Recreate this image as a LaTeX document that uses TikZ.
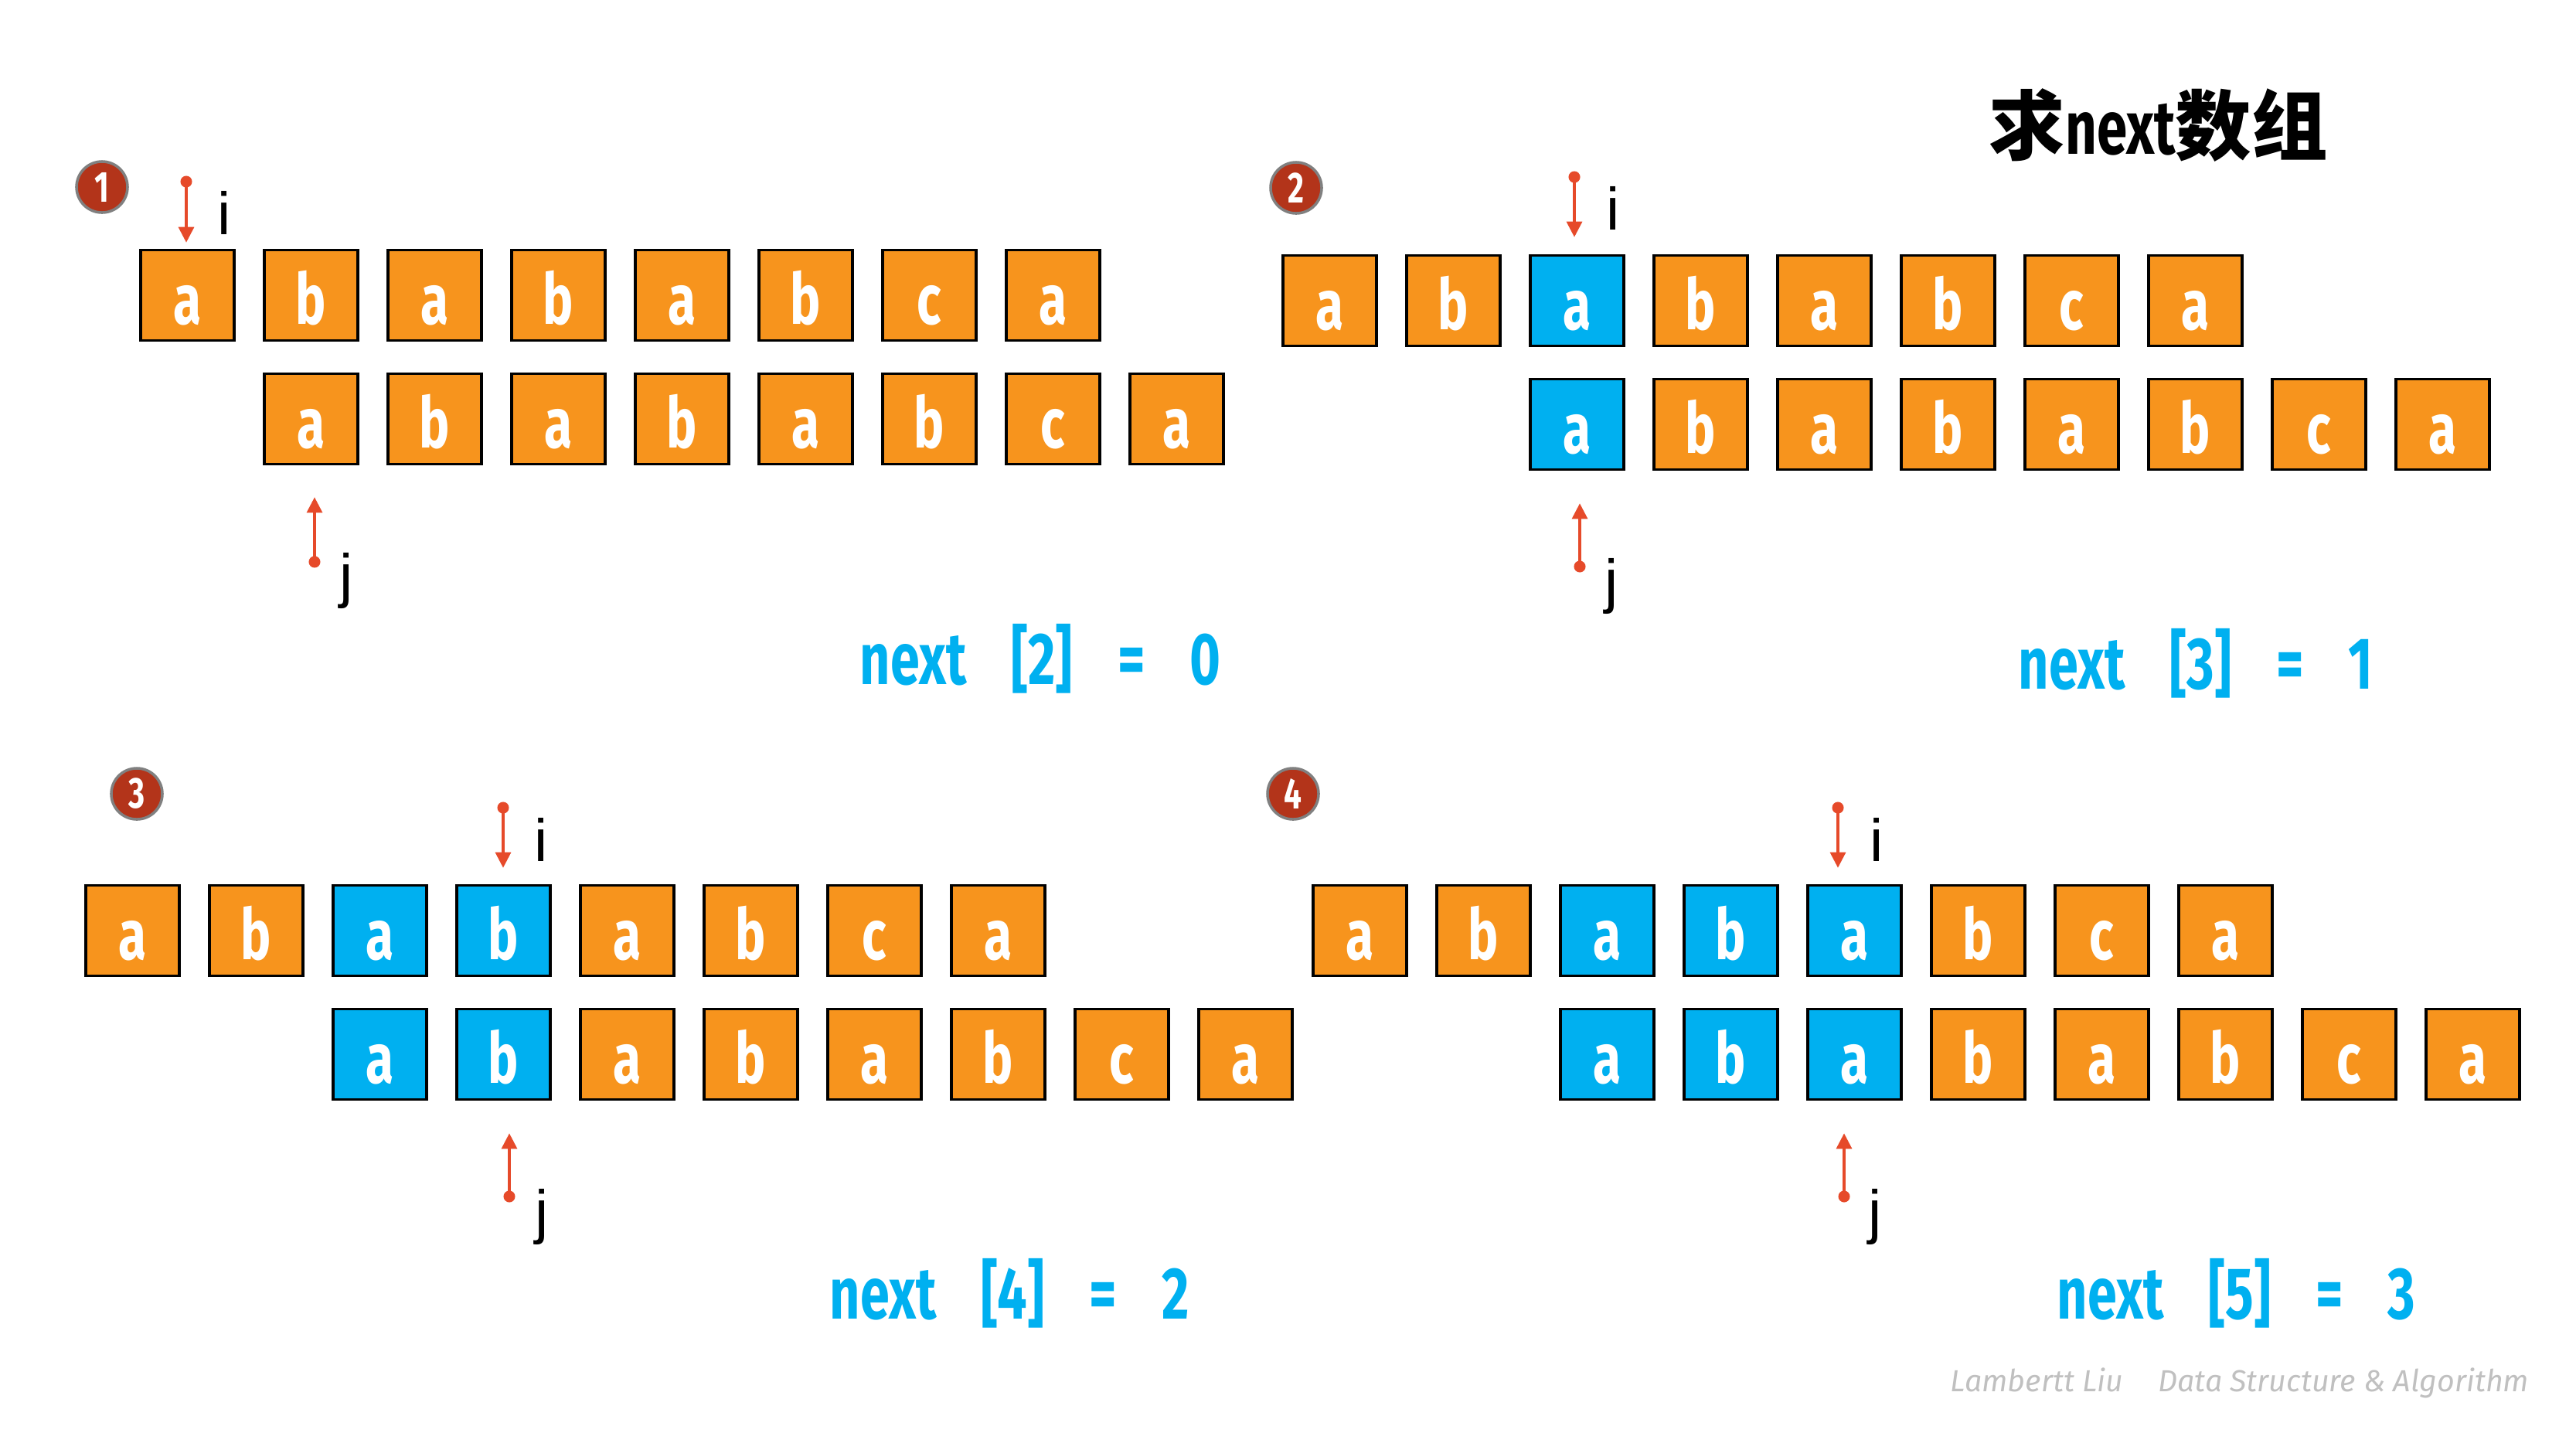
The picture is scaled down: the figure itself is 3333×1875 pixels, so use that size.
\documentclass[tikz,border=0pt]{standalone}
\usepackage{fontspec}
\setmainfont{Liberation Sans}
\newfontfamily\cond[FakeStretch=0.72]{Fira Sans}
\newfontfamily\wmfont{Fira Sans}
\newfontfamily\cjk{Noto Sans CJK SC}
\usepackage{tikz}
\usetikzlibrary{arrows.meta,positioning}

\definecolor{cellorange}{HTML}{F7941D}
\definecolor{cellblue}{HTML}{00B0F0}
\definecolor{ptrred}{HTML}{E64A2A}
\definecolor{badgered}{HTML}{B3341A}
\definecolor{wmgray}{HTML}{C0C0C0}

\tikzset{
  cell/.style={draw=black, line width=1pt, minimum width=1.21cm, minimum height=1.17cm,
    inner sep=0pt, text height=0.75cm, text depth=0cm, text=white,
    font=\cond\bfseries\fontsize{26}{26}\selectfont},
  badge/.style={circle, fill=badgered, draw=gray, line width=1pt, minimum size=0.66cm,
    inner sep=0pt, text=white, font=\cond\bfseries\fontsize{16}{16}\selectfont},
  ptr/.style={ptrred, line width=0.9pt,
    arrows={Circle[length=0.15cm]-Triangle[width=0.2cm,length=0.2cm]}},
  lbl/.style={anchor=base, inner sep=0pt, font=\fontsize{22}{22}\selectfont},
  res/.style={anchor=base west, inner sep=0pt, text=cellblue,
    font=\cond\bfseries\fontsize{27}{27}\selectfont}
}
\newcommand{\gap}{\hspace{0.58cm}}

\begin{document}
\begin{tikzpicture}[x=0.01cm, y=-0.01cm]

\useasboundingbox (0,0) rectangle (3333,1875);

% title
\node[anchor=base west, inner sep=0pt, font=\fontsize{28}{28}\selectfont] (title) at (2573,199)
  {{\cjk\bfseries 求}{\cond\bfseries next}{\cjk\bfseries 数组}};

% the four steps: top row = text, bottom row = pattern shifted
\foreach \p/\x/\y/\sh/\n in {1/182/382/1/0, 2/1660/389/2/1, 3/111/1204/2/2, 4/1699/1204/2/3}{
  \foreach \ch [count=\k from 0] in {a,b,a,b,a,b,c,a}{
    \pgfmathtruncatemacro\hit{and(\k>=\sh,\k<\sh+\n)}
    \pgfmathtruncatemacro\hib{\k<\n}
    \ifnum\hit=1 \def\fc{cellblue}\else\def\fc{cellorange}\fi
    \ifnum\hib=1 \def\fb{cellblue}\else\def\fb{cellorange}\fi
    \node[cell, fill=\fc] (t\p\k) at ({\x+60.5+\k*160}, \y) {\ch};
    \node[cell, fill=\fb] (b\p\k) at ({\x+60.5+(\k+\sh)*160}, {\y+160}) {\ch};
  }
}

% step numbers
\node[badge] (n1) at (132,242) {1};
\node[badge] (n2) at (1677,243) {2};
\node[badge] (n3) at (177,1027) {3};
\node[badge] (n4) at (1673,1027) {4};

% pointers i
\coordinate (i1) at (241,227.5);
\coordinate (i2) at (2037,221.5);
\coordinate (i3) at (651,1037.5);
\coordinate (i4) at (2378,1037.5);
\draw[ptr, shorten >=0.08cm] (i1) -- (i1 |- t10.north);
\draw[ptr, shorten >=0.22cm] (i2) -- (i2 |- t22.north);
\draw[ptr, shorten >=0.21cm] (i3) -- (i3 |- t33.north);
\draw[ptr, shorten >=0.21cm] (i4) -- (i4 |- t44.north);
\node[lbl] (il1) at (290,303) {i};
\node[lbl] (il2) at (2087,297) {i};
\node[lbl] (il3) at (700,1114) {i};
\node[lbl] (il4) at (2428,1114) {i};

% pointers j
\coordinate (j1) at (407,734.5);
\coordinate (j2) at (2044,740.5);
\coordinate (j3) at (659,1555.5);
\coordinate (j4) at (2386,1555.5);
\draw[ptr, shorten >=0.41cm] (j1) -- (j1 |- b10.south);
\draw[ptr, shorten >=0.42cm] (j2) -- (j2 |- b20.south);
\draw[ptr, shorten >=0.42cm] (j3) -- (j3 |- b31.south);
\draw[ptr, shorten >=0.42cm] (j4) -- (j4 |- b42.south);
\node[lbl] (jl1) at (448,771) {j};
\node[lbl] (jl2) at (2085,778) {j};
\node[lbl] (jl3) at (701,1594) {j};
\node[lbl] (jl4) at (2426,1594) {j};

% results
\node[res] (r1) at (1112,885) {next\gap[2]\gap=\gap0};
\node[res] (r2) at (2611,891) {next\gap[3]\gap=\gap1};
\node[res] (r3) at (1073,1706) {next\gap[4]\gap=\gap2};
\node[res] (r4) at (2661,1706) {next\gap[5]\gap=\gap3};

\node[anchor=base west, inner sep=0pt, text=wmgray, font=\wmfont\itshape\fontsize{11.2}{13}\selectfont]
  (wm) at (2523,1800) {Lambertt Liu\hspace{0.45cm}Data Structure \& Algorithm};

\end{tikzpicture}
\end{document}
